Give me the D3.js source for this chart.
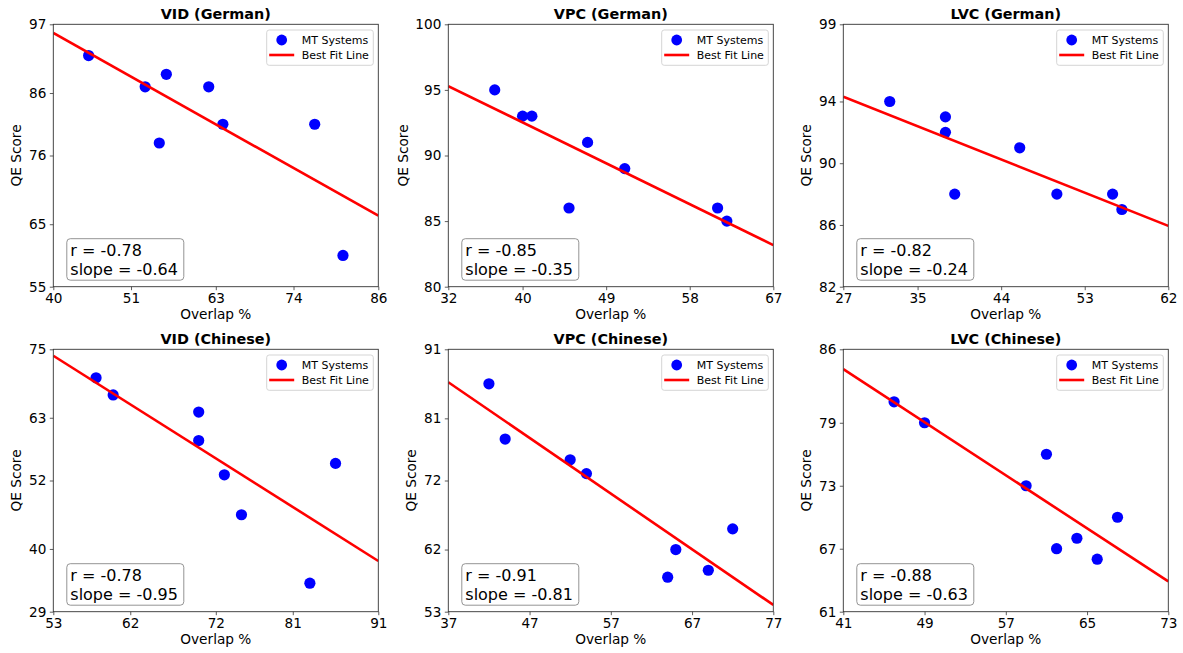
<!DOCTYPE html>
<html>
<head>
<meta charset="utf-8">
<script src="https://cdn.jsdelivr.net/npm/d3@7"></script>
<style>
  body { margin: 0; background: #fff; }
  svg { font-family: "DejaVu Sans", sans-serif; }
</style>
</head>
<body>
<script>
// panel titles
var titles = ["VID (German)", "VPC (German)", "LVC (German)",
              "VID (Chinese)", "VPC (Chinese)", "LVC (Chinese)"];

// overlap % (x) and QE score (y) for each MT system
var overlap = [
  [45, 53, 56, 55, 62, 64, 77, 81],
  [37, 40, 41, 47, 45, 51, 61, 62],
  [32, 38, 38, 39, 46, 50, 56, 57],
  [58, 60, 70, 70, 73, 75, 86, 83],
  [42, 44, 52, 54, 65, 64, 69, 72],
  [46, 49, 61, 59, 68, 64, 62, 66]
];
var qeScore = [
  [92, 87, 89, 78, 87, 81, 81, 60],
  [95, 93, 93, 91, 86, 89, 86, 85],
  [94, 93, 92, 88, 91, 88, 88, 87],
  [70, 67, 64, 59, 53, 46, 55, 34],
  [86, 78, 75, 73, 62, 58, 59, 65],
  [81, 79, 76, 73, 70, 68, 67, 66]
];

// tick values (first and last are the axis limits)
var xTicks = [
  [40, 51, 63, 74, 86],
  [32, 40, 49, 58, 67],
  [27, 35, 44, 53, 62],
  [53, 62, 72, 81, 91],
  [37, 47, 57, 67, 77],
  [41, 49, 57, 65, 73]
];
var yTicks = [
  [55, 65, 76, 86, 97],
  [80, 85, 90, 95, 100],
  [82, 86, 90, 94, 99],
  [29, 40, 52, 63, 75],
  [53, 62, 72, 81, 91],
  [61, 67, 73, 79, 86]
];

// reported stats
var rValues = ["-0.78", "-0.85", "-0.82", "-0.78", "-0.91", "-0.88"];
var slopes = ["-0.64", "-0.35", "-0.24", "-0.95", "-0.81", "-0.63"];

var W = 1183, H = 653;
var colLeft = [53.3, 448.3, 843.3];
var rowTop = [24.3, 349.3];
var pw = 325, ph = 262.4;

var svg = d3.select("body").append("svg")
  .attr("width", W).attr("height", H);

// least squares fit
function fit(xs, ys) {
  var mx = d3.mean(xs), my = d3.mean(ys);
  var sxy = 0, sxx = 0;
  for (let i = 0; i < xs.length; i++) {
    sxy += (xs[i] - mx) * (ys[i] - my);
    sxx += (xs[i] - mx) * (xs[i] - mx);
  }
  var b = sxy / sxx;
  return { b: b, a: my - b * mx };
}

titles.forEach(function(title, k) {
  var left = colLeft[k % 3], top = rowTop[Math.floor(k / 3)];
  var xt = xTicks[k], yt = yTicks[k];

  var x = d3.scaleLinear().domain([xt[0], xt[xt.length - 1]]).range([0, pw]);
  var y = d3.scaleLinear().domain([yt[0], yt[yt.length - 1]]).range([ph, 0]);

  var g = svg.append("g").attr("transform", "translate(" + left + "," + top + ")");

  g.append("clipPath").attr("id", "clip" + k)
    .append("rect").attr("width", pw).attr("height", ph);

  // axes
  var xAxis = g.append("g").attr("transform", "translate(0," + ph + ")")
    .call(d3.axisBottom(x).tickValues(xt).tickFormat(d3.format("d"))
      .tickSizeInner(3.5).tickSizeOuter(0).tickPadding(3.5));
  var yAxis = g.append("g")
    .call(d3.axisLeft(y).tickValues(yt).tickFormat(d3.format("d"))
      .tickSizeInner(3.5).tickSizeOuter(0).tickPadding(3.5));
  [xAxis, yAxis].forEach(function(a) {
    a.select(".domain").remove();
    a.selectAll(".tick line").attr("stroke", "#333").attr("stroke-width", 0.8);
    a.selectAll(".tick text").attr("fill", "#000")
      .style("font-size", "13.6px").style("font-family", "DejaVu Sans");
  });

  // scatter
  g.selectAll("circle.pt")
    .data(overlap[k].map((v, i) => [v, qeScore[k][i]]))
    .enter().append("circle")
      .attr("class", "pt")
      .attr("cx", d => x(d[0]))
      .attr("cy", d => y(d[1]))
      .attr("r", 5.6)
      .attr("fill", "#0000ff");

  // fitted line, drawn over the points
  var f = fit(overlap[k], qeScore[k]);
  var ends = x.domain();
  g.append("line")
    .attr("clip-path", "url(#clip" + k + ")")
    .attr("x1", x(ends[0])).attr("y1", y(f.a + f.b * ends[0]))
    .attr("x2", x(ends[1])).attr("y2", y(f.a + f.b * ends[1]))
    .attr("stroke", "#ff0000").attr("stroke-width", 2.6);

  // frame
  g.append("rect").attr("width", pw).attr("height", ph)
    .attr("fill", "none").attr("stroke", "#333").attr("stroke-width", 0.9);

  // title
  g.append("text").attr("x", pw / 2).attr("y", -5)
    .attr("text-anchor", "middle")
    .style("font-size", "14.4px").style("font-weight", "bold")
    .text(title);

  // x label
  g.append("text").attr("x", pw / 2).attr("y", ph + 32.5)
    .attr("text-anchor", "middle").style("font-size", "13.7px")
    .text("Overlap %");

  // y label, placed left of the widest tick label
  var maxW = 0;
  yAxis.selectAll(".tick text").each(function() {
    maxW = Math.max(maxW, this.getComputedTextLength());
  });
  var lx = -7 - maxW - 12.5;
  g.append("text")
    .attr("transform", "translate(" + lx + "," + (ph / 2) + ") rotate(-90)")
    .attr("text-anchor", "middle").attr("dy", "0.35em")
    .style("font-size", "13.7px")
    .text("QE Score");

  // legend
  var lg = g.append("g").attr("transform", "translate(" + (pw - 111.6) + ",5.7)");
  lg.append("rect").attr("width", 106.6).attr("height", 35.3).attr("rx", 2.5)
    .attr("fill", "#fff").attr("fill-opacity", 0.8)
    .attr("stroke", "#d0d0d0").attr("stroke-width", 0.9);
  lg.append("circle").attr("cx", 15).attr("cy", 10).attr("r", 5.4).attr("fill", "#0000ff");
  lg.append("line").attr("x1", 2.5).attr("x2", 27.5).attr("y1", 25).attr("y2", 25)
    .attr("stroke", "#ff0000").attr("stroke-width", 2.6);
  lg.append("text").attr("x", 35).attr("y", 13.8).style("font-size", "11px").text("MT Systems");
  lg.append("text").attr("x", 35).attr("y", 29).style("font-size", "11px").text("Best Fit Line");

  // stats box
  var sb = g.append("g").attr("transform", "translate(13.5," + (ph - 48) + ")");
  sb.append("rect").attr("width", 117).attr("height", 41.5).attr("rx", 3.5)
    .attr("fill", "#fff").attr("fill-opacity", 0.8)
    .attr("stroke", "#888").attr("stroke-width", 0.9);
  sb.append("text").attr("x", 3.5).attr("y", 17.5).style("font-size", "16px")
    .text("r = " + rValues[k]);
  sb.append("text").attr("x", 3.5).attr("y", 36.5).style("font-size", "16px")
    .text("slope = " + slopes[k]);
});
</script>
</body>
</html>
